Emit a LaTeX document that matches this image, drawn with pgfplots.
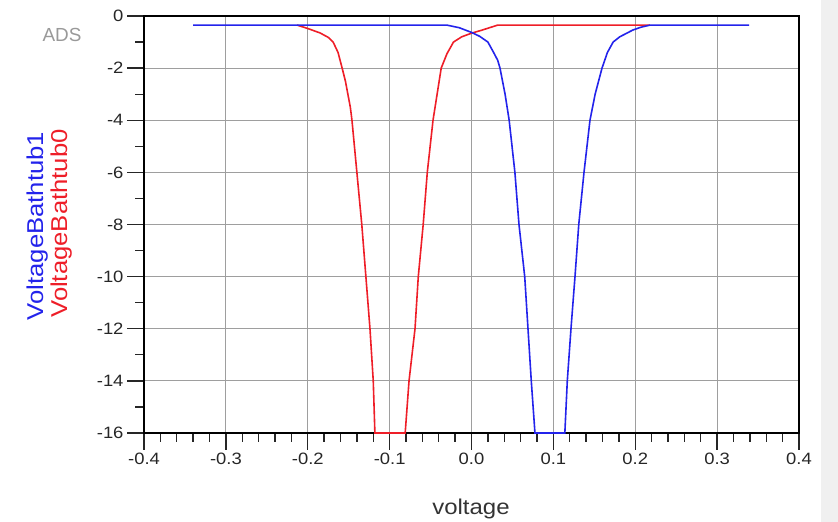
\documentclass[border=0pt]{standalone}
\usepackage{fontspec}
\setmainfont{Liberation Sans}[FakeStretch=1.12]
\newfontfamily\plainsans{Liberation Sans}
\usepackage{pgfplots}
\pgfplotsset{compat=1.18}
\definecolor{adsblue}{RGB}{35,35,235}
\definecolor{adsred}{RGB}{238,30,40}
\begin{document}
\begin{tikzpicture}[x=1bp,y=1bp]
\useasboundingbox (0,0) rectangle (838,522);
\fill[black!6] (821,0) rectangle (838,522);
\begin{axis}[
  at={(144bp,89bp)}, anchor=south west,
  scale only axis, width=655bp, height=417bp,
  xmin=-0.4, xmax=0.4, ymin=-16, ymax=0,
  axis line style={black, line width=2bp},
  tick style={black!85, line width=1.3bp},
  major tick length=17bp, minor tick length=9bp,
  tick align=outside, xtick pos=bottom, ytick pos=left,
  grid=major, major grid style={black!38, line width=1bp},
  minor grid style={draw=none},
  xtick={-0.4,-0.3,-0.2,-0.1,0,0.1,0.2,0.3,0.4},
  xticklabels={\mbox{-0.4},\mbox{-0.3},\mbox{-0.2},\mbox{-0.1},\mbox{0.0},\mbox{0.1},\mbox{0.2},\mbox{0.3},\mbox{0.4}},
  ytick={-16,-14,-12,-10,-8,-6,-4,-2,0},
  yticklabels={\mbox{-16},\mbox{-14},\mbox{-12},\mbox{-10},\mbox{-8},\mbox{-6},\mbox{-4},\mbox{-2},\mbox{0}},
  minor x tick num=4, minor y tick num=1,
  ticklabel style={font=\fontsize{16.5}{16.5}\selectfont, text=black!85},
  clip=false,
]
\addplot[adsred, line width=1.6bp] coordinates {
(-0.213,-0.35) (-0.200,-0.48) (-0.185,-0.65) (-0.175,-0.82) (-0.169,-1.0)
(-0.163,-1.4) (-0.158,-2.0) (-0.154,-2.5) (-0.151,-3.0) (-0.148,-3.5)
(-0.146,-4.0) (-0.143,-5.0) (-0.140,-6.0) (-0.137,-7.0) (-0.134,-8.0)
(-0.129,-10.0) (-0.124,-12.0) (-0.120,-14.0) (-0.118,-16) (-0.081,-16)
(-0.0763,-14) (-0.069,-12) (-0.065,-10) (-0.059,-8) (-0.054,-6)
(-0.047,-4) (-0.042,-3) (-0.037,-2) (-0.030,-1.45) (-0.022,-1.0)
(-0.012,-0.8) (0.0,-0.66) (0.012,-0.55) (0.022,-0.45) (0.032,-0.35) (0.218,-0.35)
};
\addplot[adsblue, line width=1.6bp] coordinates {
(-0.34,-0.35) (-0.03,-0.35) (-0.015,-0.45) (0.0,-0.63) (0.01,-0.78)
(0.020,-1.0) (0.027,-1.4) (0.032,-1.7) (0.0348,-2.0) (0.041,-3.0)
(0.046,-4.0) (0.053,-6.0) (0.058,-8.0) (0.065,-10.0) (0.069,-12.0)
(0.073,-14.0) (0.0775,-16) (0.114,-16) (0.117,-14) (0.1215,-12)
(0.1264,-10) (0.131,-8) (0.1374,-6) (0.1447,-4) (0.151,-3)
(0.1594,-2) (0.166,-1.4) (0.173,-1.0) (0.181,-0.8) (0.197,-0.54)
(0.207,-0.43) (0.218,-0.35) (0.339,-0.35)
};
\end{axis}
\node[rotate=90, anchor=base, text=adsblue, font=\fontsize{23}{23}\selectfont, inner sep=0pt] at (43,296) {VoltageBathtub1};
\node[rotate=90, anchor=base, text=adsred, font=\fontsize{23}{23}\selectfont, inner sep=0pt] at (67,298.5) {VoltageBathtub0};
\node[text=black!40, font=\plainsans\fontsize{19}{19}\selectfont, inner sep=0pt] at (62,487) {ADS};
\node[anchor=base, text=black!80, font=\fontsize{21.5}{21.5}\selectfont, inner sep=0pt] at (471,7) {voltage};
\end{tikzpicture}
\end{document}
